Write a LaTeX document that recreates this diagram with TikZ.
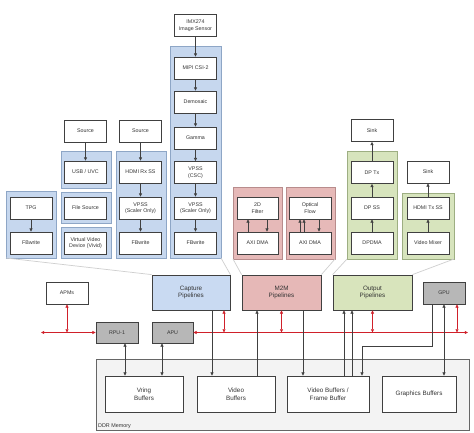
\documentclass[tikz,border=0pt]{standalone}
\usepackage{fontspec}
\setmainfont{Liberation Sans}
\usetikzlibrary{arrows.meta}
\definecolor{bgrp}{HTML}{C6D7EE}
\definecolor{bgrpl}{HTML}{8EA6C6}
\definecolor{pgrp}{HTML}{E6B9B8}
\definecolor{pgrpl}{HTML}{B88C8C}
\definecolor{ggrp}{HTML}{D7E4BD}
\definecolor{ggrpl}{HTML}{9DAE82}
\definecolor{capf}{HTML}{C9DAF2}
\definecolor{m2mf}{HTML}{E6B8B7}
\definecolor{outf}{HTML}{D8E4BC}
\definecolor{gbox}{HTML}{B7B7B7}
\definecolor{ddrf}{HTML}{F3F3F3}
\definecolor{redl}{HTML}{D0202A}
\definecolor{funnel}{HTML}{CFCFCF}
\definecolor{txt}{HTML}{333333}
\begin{document}
\begin{tikzpicture}[x=1pt,y=-1pt,
  bx/.style={draw=black!75, fill=white, line width=0.7pt, minimum width=42pt, minimum height=22pt, inner sep=0pt, align=center, font=\fontsize{5.3}{6.5}\selectfont, text=txt},
  pipe/.style={draw=black!75, line width=0.8pt, minimum width=78pt, minimum height=35pt, inner sep=0pt, align=center, font=\fontsize{6.3}{7.6}\selectfont, text=txt},
  gbx/.style={bx, fill=gbox, line width=0.8pt},
  buf/.style={draw=black!75, fill=white, line width=0.8pt, minimum height=36pt, inner sep=0pt, align=center, font=\fontsize{6.3}{7.6}\selectfont, text=txt},
  grp/.style={inner sep=0pt, outer sep=0pt, line width=0.7pt},
  grpB/.style={grp, draw=bgrpl, fill=bgrp},
  grpP/.style={grp, draw=pgrpl, fill=pgrp},
  grpG/.style={grp, draw=ggrpl, fill=ggrp},
  ar/.style={-{Triangle[length=3.2pt,width=3pt]}, draw=black!75, line width=0.6pt},
  dar/.style={{Triangle[length=3.2pt,width=3pt]}-{Triangle[length=3.2pt,width=3pt]}, draw=black!75, line width=0.6pt},
  rdar/.style={{Triangle[length=3.2pt,width=3pt]}-{Triangle[length=3.2pt,width=3pt]}, draw=redl, line width=0.6pt},
  fun/.style={draw=funnel, line width=0.7pt},
]
\useasboundingbox (0,0) rectangle (474,432);
\fill[white] (0,0) rectangle (474,432);

% groups
\node[grpB, minimum width=50pt, minimum height=67pt] (gtpg) at (31,224.5) {};
\node[grpB, minimum width=50pt, minimum height=37pt] (gusb) at (86,169.5) {};
\node[grpB, minimum width=50pt, minimum height=31pt] (gfile) at (86,207.5) {};
\node[grpB, minimum width=50pt, minimum height=31pt] (gviv) at (86,242.5) {};
\node[grpB, minimum width=50pt, minimum height=107pt] (ghdmi) at (141,204.5) {};
\node[grpB, minimum width=51pt, minimum height=212pt] (gmipi) at (195.5,152) {};
\node[grpP, minimum width=49pt, minimum height=72pt] (g2d) at (257.5,223) {};
\node[grpP, minimum width=49pt, minimum height=72pt] (gof) at (310.5,223) {};
\node[grpG, minimum width=50pt, minimum height=108pt] (gdp) at (372,205) {};
\node[grpG, minimum width=52pt, minimum height=66pt] (ghtx) at (428,226) {};

% boxes
\node[bx] (tpg) at (31,208) {TPG};
\node[bx] (fbw1) at (31,243) {FBwrite};
\node[bx] (src1) at (85.5,131) {Source};
\node[bx] (usb) at (85.5,172) {USB / UVC};
\node[bx] (file) at (85.5,208) {File Source};
\node[bx] (viv) at (85.5,243) {Virtual Video\\Device (Vivid)};
\node[bx] (src2) at (140.5,131) {Source};
\node[bx] (hdrx) at (140.5,172) {HDMI Rx SS};
\node[bx] (vpss1) at (140.5,208) {VPSS\\(Scaler Only)};
\node[bx] (fbw2) at (140.5,243) {FBwrite};
\node[bx] (imx) at (195.5,25.5) {IMX274\\Image Sensor};
\node[bx] (mipi) at (195.5,68) {MIPI CSI-2};
\node[bx] (demo) at (195.5,102) {Demosaic};
\node[bx] (gam) at (195.5,138) {Gamma};
\node[bx] (csc) at (195.5,172.5) {VPSS\\(CSC)};
\node[bx] (vpss2) at (195.5,208) {VPSS\\(Scaler Only)};
\node[bx] (fbw3) at (195.5,243) {FBwrite};
\node[bx, minimum width=41pt] (filt) at (257.5,208) {2D\\Filter};
\node[bx, minimum width=41pt] (dma1) at (257.5,243) {AXI DMA};
\node[bx] (flow) at (310,208) {Optical\\Flow};
\node[bx] (dma2) at (310,243) {AXI DMA};
\node[bx] (sink1) at (372,130.5) {Sink};
\node[bx] (dptx) at (372,172.5) {DP Tx};
\node[bx] (dpss) at (372,208) {DP SS};
\node[bx] (dpdma) at (372,243) {DPDMA};
\node[bx] (sink2) at (428,172) {Sink};
\node[bx] (hdtx) at (428,208) {HDMI Tx SS};
\node[bx] (mix) at (428,243) {Video Mixer};

% arrows inside groups
\draw[ar] (tpg) -- (fbw1);
\draw[ar] (src1) -- (usb);
\draw[ar] (src2) -- (hdrx);
\draw[ar] (hdrx) -- (vpss1);
\draw[ar] (vpss1) -- (fbw2);
\draw[ar] (imx) -- (mipi);
\draw[ar] (mipi) -- (demo);
\draw[ar] (demo) -- (gam);
\draw[ar] (gam) -- (csc);
\draw[ar] (csc) -- (vpss2);
\draw[ar] (vpss2) -- (fbw3);
\draw[ar] (dpdma) -- (dpss);
\draw[ar] (dpss) -- (dptx);
\draw[ar] (dptx) -- (sink1);
\draw[ar] (mix) -- (hdtx);
\draw[ar] (hdtx) -- (sink2);
\coordinate (f1) at ([xshift=-9.5pt]dma1.north);
\coordinate (f2) at ([xshift=9.5pt]filt.south);
\draw[ar] (f1) -- (f1 |- filt.south);
\draw[ar] (f2) -- (f2 |- dma1.north);
\coordinate (o1) at ([xshift=-10pt]dma2.north);
\coordinate (o2) at ([xshift=-6pt]dma2.north);
\coordinate (o3) at ([xshift=9pt]flow.south);
\draw[ar] (o1) -- (o1 |- flow.south);
\draw[ar] (o2) -- (o2 |- flow.south);
\draw[ar] (o3) -- (o3 |- dma2.north);

% pipelines and processors
\node[pipe, fill=capf] (cap) at (191,292.5) {Capture\\Pipelines};
\node[pipe, fill=m2mf, minimum width=79pt] (m2m) at (281.5,292.5) {M2M\\Pipelines};
\node[pipe, fill=outf, minimum width=79pt] (out) at (372.5,292.5) {Output\\Pipelines};
\node[gbx] (gpu) at (444,293) {GPU};
\node[bx] (apms) at (67,293) {APMs};
\node[gbx, minimum height=21pt] (rpu) at (117,332.5) {RPU-1};
\node[gbx, minimum width=41pt, minimum height=21pt] (apu) at (172.5,332.5) {APU};

% funnel lines
\draw[fun] (gtpg.south west) -- (cap.north west);
\draw[fun] (gmipi.south east) -- (cap.north east);
\draw[fun] (g2d.south west) -- (m2m.north west);
\draw[fun] (gof.south east) -- (m2m.north east);
\draw[fun] (gdp.south west) -- (out.north west);
\draw[fun] (ghtx.south east) -- (out.north east);

% DDR memory
\node[draw=black!60, fill=ddrf, line width=0.7pt, minimum width=373pt, minimum height=71pt, inner sep=0pt] (ddr) at (282.5,394.5) {};
\node[anchor=west, inner sep=0pt, font=\fontsize{5.4}{6.5}\selectfont, text=txt] (ddrl) at (98,426) {DDR Memory};
\node[buf, minimum width=78pt] (vring) at (144,394) {Vring\\Buffers};
\node[buf, minimum width=78pt] (vbuf) at (236,394) {Video\\Buffers};
\node[buf, minimum width=82pt] (vbfb) at (328,394) {Video Buffers /\\Frame Buffer};
\node[buf, minimum width=74pt] (gbuf) at (419,394) {Graphics Buffers};

% red bus
\coordinate (rl) at (41,332.5);
\coordinate (rr) at (468,332.5);
\draw[rdar] (rl) -- (rpu.west);
\draw[rdar] (apu.east) -- (rr);
\draw[rdar] (apms.south) -- (apms.south |- rl);
\coordinate (r1) at ([xshift=33pt]cap.south);
\draw[rdar] (r1) -- (r1 |- rl);
\draw[rdar] (m2m.south) -- (m2m.south |- rl);
\draw[rdar] (out.south) -- (out.south |- rl);
\coordinate (r2) at ([xshift=13pt]gpu.south);
\draw[rdar] (r2) -- (r2 |- rl);

% memory connections
\coordinate (m1) at ([xshift=8pt]rpu.south);
\draw[dar] (m1) -- (m1 |- vring.north);
\coordinate (m2) at ([xshift=-10.5pt]apu.south);
\draw[dar] (m2) -- (m2 |- vring.north);
\coordinate (m3) at ([xshift=21pt]cap.south);
\draw[ar] (m3) -- (m3 |- vbuf.north);
\coordinate (m4) at ([xshift=21pt]vbuf.north);
\draw[ar] (m4) -- (m4 |- m2m.south);
\coordinate (m5) at ([xshift=21.5pt]m2m.south);
\draw[ar] (m5) -- (m5 |- vbfb.north);
\coordinate (m6) at ([xshift=16pt]vbfb.north);
\coordinate (m7) at ([xshift=24pt]vbfb.north);
\draw[ar] (m6) -- (m6 |- out.south);
\draw[ar] (m7) -- (m7 |- out.south);
\coordinate (g1) at ([xshift=-12pt]gpu.south);
\coordinate (g2) at ([xshift=34pt]vbfb.north);
\coordinate (bend) at (0,346);
\draw[ar] (g1) -- (g1 |- bend) -- (g2 |- bend) -- (g2);
\draw[dar] (gpu.south) -- (gpu.south |- gbuf.north);
\end{tikzpicture}
\end{document}
